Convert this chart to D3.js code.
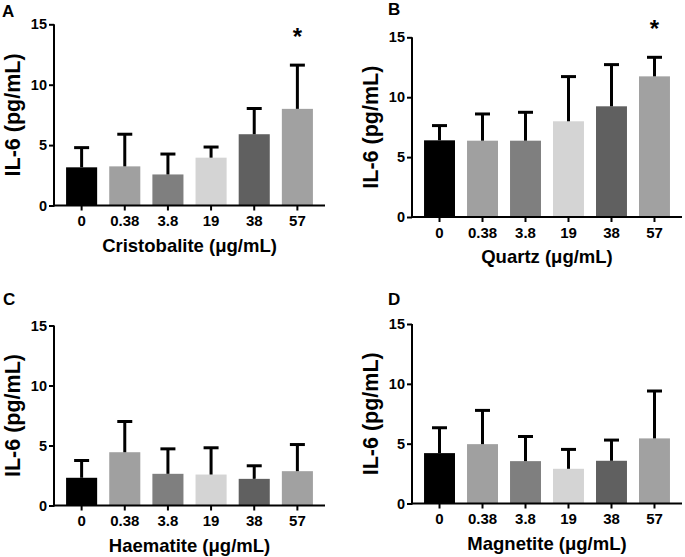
<!DOCTYPE html>
<html>
<head>
<meta charset="utf-8">
<script src="https://cdn.jsdelivr.net/npm/d3@7"></script>
<style>
  html, body { margin: 0; padding: 0; background: #fff; }
  svg { display: block; font-family: Arial, "Liberation Sans", Helvetica, sans-serif; }
</style>
</head>
<body>
<svg id="chart" width="685" height="557"></svg>
<script>
// ---- Data ----
const categories = ["0", "0.38", "3.8", "19", "38", "57"];
const yTicks = [0, 5, 10, 15];
const barColors = ["#000000", "#a0a0a0", "#7f7f7f", "#d4d4d4", "#606060", "#a1a1a1"];

const cristobaliteMean = [3.16, 3.24, 2.57, 3.96, 5.90, 8.00];
const cristobaliteSD   = [1.63, 2.66, 1.69, 0.88, 2.13, 3.62];
const cristobaliteSig  = [false, false, false, false, false, true];

const quartzMean = [6.40, 6.37, 6.37, 7.99, 9.24, 11.74];
const quartzSD   = [1.23, 2.23, 2.37, 3.73, 3.48, 1.59];
const quartzSig  = [false, false, false, false, false, true];

const haematiteMean = [2.31, 4.44, 2.64, 2.58, 2.22, 2.86];
const haematiteSD   = [1.44, 2.56, 2.08, 2.23, 1.09, 2.22];
const haematiteSig  = [false, false, false, false, false, false];

const magnetiteMean = [4.21, 4.96, 3.54, 2.90, 3.57, 5.44];
const magnetiteSD   = [2.12, 2.82, 2.06, 1.62, 1.73, 3.96];
const magnetiteSig  = [false, false, false, false, false, false];

const yTitle = "IL-6 (pg/mL)";

// ---- Panel layout ----
const panels = [
  { letter: "A", xTitle: "Cristobalite (μg/mL)", mean: cristobaliteMean, sd: cristobaliteSD, sig: cristobaliteSig,
    left: 54, right: 325, top: 24.3, bottom: 205.5, letterX: 2, letterY: 17 },
  { letter: "B", xTitle: "Quartz (μg/mL)", mean: quartzMean, sd: quartzSD, sig: quartzSig,
    left: 412, right: 682, top: 37.3, bottom: 217, letterX: 388, letterY: 15 },
  { letter: "C", xTitle: "Haematite (μg/mL)", mean: haematiteMean, sd: haematiteSD, sig: haematiteSig,
    left: 54, right: 325, top: 325.5, bottom: 505.5, letterX: 3, letterY: 305 },
  { letter: "D", xTitle: "Magnetite (μg/mL)", mean: magnetiteMean, sd: magnetiteSD, sig: magnetiteSig,
    left: 412, right: 682, top: 324, bottom: 503.5, letterX: 388, letterY: 305 }
];

const svg = d3.select("#chart");
const FONT = "Arial, 'Liberation Sans', sans-serif";

panels.forEach(p => {
  const g = svg.append("g");
  const x = d3.scaleBand().domain(categories).range([p.left, p.right]).padding(0.28);
  const y = d3.scaleLinear().domain([0, 15]).range([p.bottom, p.top]);

  const rows = categories.map((c, i) => ({ c, m: p.mean[i], sd: p.sd[i], sig: p.sig[i], color: barColors[i] }));

  // bars
  g.selectAll("rect.bar").data(rows).enter().append("rect")
    .attr("class", "bar")
    .attr("x", d => x(d.c))
    .attr("width", x.bandwidth())
    .attr("y", d => y(d.m))
    .attr("height", d => y(0) - y(d.m))
    .attr("fill", d => d.color);

  // error bars (upper only)
  const capW = 15;
  g.selectAll("line.err").data(rows).enter().append("line")
    .attr("x1", d => x(d.c) + x.bandwidth() / 2)
    .attr("x2", d => x(d.c) + x.bandwidth() / 2)
    .attr("y1", d => y(d.m))
    .attr("y2", d => y(d.m + d.sd))
    .attr("stroke", "#000").attr("stroke-width", 3);
  g.selectAll("line.cap").data(rows).enter().append("line")
    .attr("x1", d => x(d.c) + x.bandwidth() / 2 - capW / 2)
    .attr("x2", d => x(d.c) + x.bandwidth() / 2 + capW / 2)
    .attr("y1", d => y(d.m + d.sd))
    .attr("y2", d => y(d.m + d.sd))
    .attr("stroke", "#000").attr("stroke-width", 3);

  // significance stars
  g.selectAll("text.star").data(rows.filter(d => d.sig)).enter().append("text")
    .attr("x", d => x(d.c) + x.bandwidth() / 2)
    .attr("y", d => y(d.m + d.sd) - 20)
    .attr("text-anchor", "middle")
    .attr("font-size", 24).attr("font-weight", "bold")
    .text("*");

  // y axis
  const yAxis = g.append("g").attr("transform", `translate(${p.left},0)`)
    .call(d3.axisLeft(y).tickValues(yTicks).tickSize(5).tickPadding(2).tickFormat(d3.format("d")));
  yAxis.select(".domain").attr("stroke-width", 2).attr("d", `M0,${y(15)}V${y(0) + 1}`);
  yAxis.selectAll(".tick line").attr("stroke-width", 2);
  yAxis.selectAll(".tick text").attr("font-size", 14.5).attr("font-weight", "bold")
    .attr("font-family", FONT).attr("fill", "#000");

  // x axis
  const xAxis = g.append("g").attr("transform", `translate(0,${p.bottom})`)
    .call(d3.axisBottom(x).tickSize(5).tickPadding(5));
  xAxis.select(".domain").attr("stroke-width", 2).attr("d", `M${p.left - 1},0H${p.right}`);
  xAxis.selectAll(".tick line").attr("stroke-width", 2);
  xAxis.selectAll(".tick text").attr("font-size", 15).attr("font-weight", "bold")
    .attr("font-family", FONT).attr("fill", "#000");

  // x title
  g.append("text")
    .attr("x", (p.left + p.right) / 2)
    .attr("y", p.bottom + 46)
    .attr("text-anchor", "middle")
    .attr("font-size", 18.5).attr("font-weight", "bold")
    .text(p.xTitle);

  // y title
  g.append("text")
    .attr("transform", `translate(${p.left - 34},${(p.top + p.bottom) / 2}) rotate(-90)`)
    .attr("text-anchor", "middle")
    .attr("font-size", 21.5).attr("font-weight", "bold")
    .text(yTitle);

  // panel letter
  g.append("text")
    .attr("x", p.letterX).attr("y", p.letterY)
    .attr("font-size", 17).attr("font-weight", "bold")
    .text(p.letter);
});
</script>
</body>
</html>
